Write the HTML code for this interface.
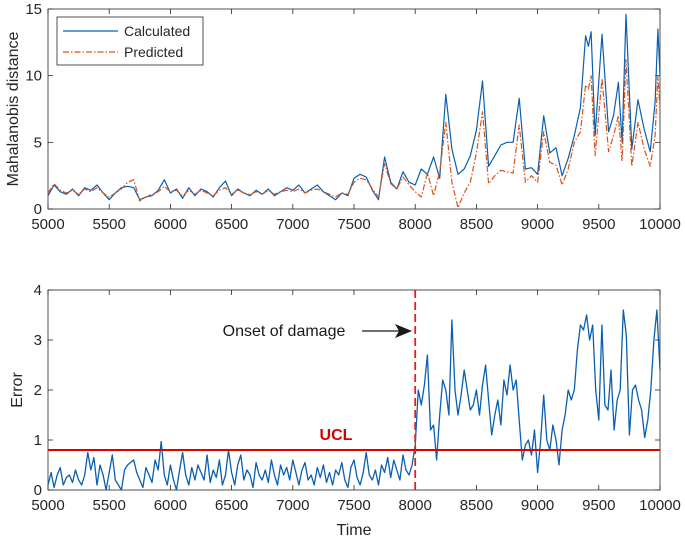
<!DOCTYPE html>
<html><head><meta charset="utf-8"><style>
body{margin:0;background:#fff;}
svg{font-family:"Liberation Sans",sans-serif;}
</style></head><body>
<svg id="c" width="685" height="540" viewBox="0 0 685 540"></svg>
<script>
const xTicks=[5000,5500,6000,6500,7000,7500,8000,8500,9000,9500,10000];
const topYTicks=[0,5,10,15];
const botYTicks=[0,1,2,3,4];
const topTime=[5000,5050,5100,5150,5200,5250,5300,5350,5400,5450,5500,5550,5600,5650,5700,5750,5800,5850,5900,5950,6000,6050,6100,6150,6200,6250,6300,6350,6400,6450,6500,6550,6600,6650,6700,6750,6800,6850,6900,6950,7000,7050,7100,7150,7200,7250,7300,7350,7400,7450,7500,7550,7600,7650,7700,7750,7800,7850,7900,7950,8000,8050,8100,8150,8200,8250,8300,8350,8400,8450,8500,8550,8600,8650,8700,8750,8800,8850,8900,8950,9000,9050,9100,9150,9200,9250,9300,9350,9392,9415,9437,9470,9526,9580,9620,9660,9690,9722,9770,9820,9870,9920,9960,9983,10000];
const calculated=[1.0,1.8,1.3,1.1,1.5,1.0,1.6,1.4,1.8,1.2,0.7,1.2,1.6,1.7,1.6,0.7,0.9,1.0,1.4,2.2,1.2,1.5,0.8,1.6,1.0,1.5,1.3,0.9,1.6,2.1,1.0,1.5,1.2,1.0,1.4,1.1,1.5,1.0,1.3,1.6,1.4,1.8,1.2,1.5,1.8,1.3,1.0,0.7,1.2,1.0,2.3,2.6,2.4,1.4,0.7,3.9,2.0,1.5,2.8,2.0,1.8,3.0,2.6,3.9,2.3,8.6,4.5,2.6,3.0,4.0,5.9,9.6,3.2,4.0,4.8,5.0,5.0,8.3,3.0,3.1,2.6,7.0,4.2,4.6,2.5,3.8,5.5,7.6,13.0,12.2,13.3,5.5,13.1,5.8,7.0,9.5,5.0,14.6,4.5,8.2,6.0,4.3,8.0,13.5,10.0];
const predicted=[1.2,1.9,1.4,1.2,1.4,1.1,1.5,1.3,1.6,1.2,0.9,1.2,1.5,2.0,2.2,0.6,0.9,1.1,1.3,1.7,1.3,1.4,1.0,1.4,1.1,1.4,1.2,1.0,1.4,1.6,1.1,1.4,1.2,1.1,1.3,1.1,1.4,1.1,1.3,1.4,1.3,1.5,1.2,1.4,1.5,1.3,1.1,0.9,1.2,1.1,2.0,2.3,2.2,1.5,0.9,3.4,1.9,1.5,2.4,1.8,1.3,0.9,2.7,1.0,2.8,6.5,2.0,0.1,1.2,2.0,4.2,7.3,1.9,2.5,2.9,2.8,2.7,6.3,2.0,2.5,2.0,5.8,3.5,3.3,1.8,3.0,5.0,5.8,9.3,9.0,10.0,4.0,9.8,4.3,5.5,7.0,3.6,11.2,3.2,6.5,4.5,3.2,5.5,10.0,7.5];
const errorVals=[0.1,0.35,0.05,0.3,0.45,0.1,0.25,0.3,0.15,0.4,0.2,0.1,0.3,0.75,0.4,0.65,0.1,0.5,0.3,0.0,0.35,0.7,0.2,0.1,0.0,0.4,0.5,0.55,0.6,0.35,0.2,0.05,0.45,0.3,0.15,0.6,0.4,0.97,0.3,0.1,0.5,0.2,0.0,0.4,0.75,0.3,0.1,0.45,0.2,0.5,0.35,0.2,0.7,0.15,0.4,0.25,0.6,0.1,0.3,0.8,0.35,0.1,0.5,0.7,0.2,0.4,0.3,0.05,0.55,0.3,0.2,0.4,0.15,0.6,0.3,0.1,0.5,0.3,0.45,0.2,0.6,0.35,0.1,0.4,0.55,0.2,0.3,0.1,0.45,0.25,0.5,0.15,0.35,0.1,0.4,0.3,0.55,0.2,0.05,0.45,0.6,0.25,0.1,0.35,0.75,0.3,0.2,0.4,0.1,0.5,0.35,0.65,0.25,0.6,0.4,0.2,0.7,0.4,0.3,0.5,0.9,
2.0,1.7,2.1,2.7,1.2,1.3,0.6,1.5,2.2,2.0,1.5,3.4,2.0,1.5,1.9,2.4,2.0,1.6,1.7,2.0,1.5,2.1,2.5,1.8,1.1,1.5,1.8,1.3,2.2,1.9,2.5,2.0,2.2,1.4,0.6,0.9,1.0,0.7,1.2,0.35,1.0,1.9,1.0,0.8,1.3,1.0,0.5,1.2,1.5,2.0,1.8,2.0,2.8,3.3,3.2,3.5,3.0,3.3,2.0,1.4,3.3,1.7,1.6,2.4,1.2,1.8,2.0,3.6,3.1,1.1,2.0,2.1,1.8,1.6,1.05,1.4,2.0,3.0,3.6,2.4];
const ucl=0.8, onset=8000;

const svg=document.getElementById('c');const NS='http://www.w3.org/2000/svg';
function mk(tag,attrs,parent){const e=document.createElementNS(NS,tag);for(const k in attrs)e.setAttribute(k,attrs[k]);(parent||svg).appendChild(e);return e;}
const L=48,R=660;
const sx=v=>L+(v-5000)/5000*(R-L);
function axes(top,bot,ymax,yticks,name){
  const sy=v=>bot-(v/ymax)*(bot-top);
  const g=mk('g',{});
  
  
  mk('rect',{x:L,y:top,width:R-L,height:bot-top,fill:'#fff',stroke:'#262626','stroke-width':0.8},g);
  xTicks.forEach(t=>{const x=sx(t);
    mk('line',{x1:x,x2:x,y1:bot,y2:bot-5,stroke:'#262626','stroke-width':0.8},g);
    mk('line',{x1:x,x2:x,y1:top,y2:top+5,stroke:'#262626','stroke-width':0.8},g);
    const tx=mk('text',{x:x,y:bot+20,'text-anchor':'middle','font-size':15,fill:'#262626'},g);tx.textContent=t;
    
    });
  yticks.forEach(t=>{const y=sy(t);
    mk('line',{x1:L,x2:L+5,y1:y,y2:y,stroke:'#262626','stroke-width':0.8},g);
    mk('line',{x1:R,x2:R-5,y1:y,y2:y,stroke:'#262626','stroke-width':0.8},g);
    const tx=mk('text',{x:L-6,y:y+5,'text-anchor':'end','font-size':15,fill:'#262626'},g);tx.textContent=t;
    
    });
  return sy;
}
function line(xs,ys,sy,attrs,name){
  const d=ys.map((v,i)=>(i?'L':'M')+sx(xs[i]).toFixed(1)+','+sy(v).toFixed(1)).join('');
  const p=mk('path',Object.assign({d:d,fill:'none','stroke-linejoin':'round'},attrs));
  
  
}
// top
const syT=axes(9,209,15,topYTicks,'top-axes');
line(topTime,calculated,syT,{stroke:'#0a5fb0','stroke-width':1.2},'calculated-line');
line(topTime,predicted,syT,{stroke:'#d95319','stroke-width':1.2,'stroke-dasharray':'6,2,1.5,2'},'predicted-line');
let t=mk('text',{x:0,y:0,'font-size':16,fill:'#262626','text-anchor':'middle',transform:'translate(18,109) rotate(-90)'});t.textContent='Mahalanobis distance';


const lg=mk('g',{});


mk('rect',{x:57,y:17,width:146,height:48,fill:'#fff',stroke:'#262626','stroke-width':0.8},lg);
mk('line',{x1:63,x2:118,y1:31,y2:31,stroke:'#0a5fb0','stroke-width':1.3},lg);
mk('line',{x1:63,x2:118,y1:52,y2:52,stroke:'#d95319','stroke-width':1.3,'stroke-dasharray':'6,2,1.5,2'},lg);
t=mk('text',{x:124,y:36,'font-size':14,fill:'#262626'},lg);t.textContent='Calculated';


t=mk('text',{x:124,y:57,'font-size':14,fill:'#262626'},lg);t.textContent='Predicted';


// bottom
const syB=axes(290,490,4,botYTicks,'bottom-axes');
const errTime=errorVals.map((_,i)=>5000+i*5000/(errorVals.length-1));
line(errTime,errorVals,syB,{stroke:'#0a5fb0','stroke-width':1.3},'error-line');
const u=mk('line',{x1:L,x2:R,y1:syB(ucl),y2:syB(ucl),stroke:'#e00000','stroke-width':2});


t=mk('text',{x:336,y:syB(ucl)-10,'font-size':16,'font-weight':'bold',fill:'#d40000','text-anchor':'middle'});t.textContent='UCL';


const o=mk('line',{x1:sx(onset),x2:sx(onset),y1:290,y2:490,stroke:'#e02020','stroke-width':1.8,'stroke-dasharray':'8,4'});


t=mk('text',{x:284,y:336,'font-size':16,fill:'#1a1a1a','text-anchor':'middle'});t.textContent='Onset of damage';


const a=mk('g',{});


mk('line',{x1:362,x2:400,y1:331,y2:331,stroke:'#1a1a1a','stroke-width':1.3},a);
mk('path',{d:'M412,331 L395,324 L399,331 L395,338 Z',fill:'#1a1a1a'},a);
t=mk('text',{x:0,y:0,'font-size':16,fill:'#262626','text-anchor':'middle',transform:'translate(22,390) rotate(-90)'});t.textContent='Error';


t=mk('text',{x:354,y:535,'font-size':16,fill:'#262626','text-anchor':'middle'});t.textContent='Time';


</script>
</body></html>
